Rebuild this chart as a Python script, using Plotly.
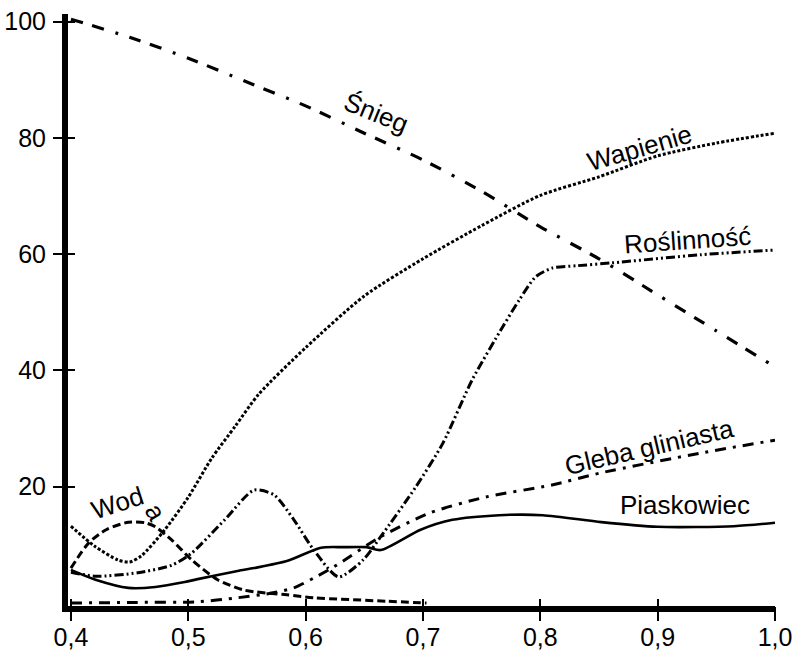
import plotly.graph_objects as go

# ---- data (wavelength in µm, reflectance in %) ----
snieg_x = [0.40, 0.45, 0.50, 0.55, 0.60, 0.65, 0.70, 0.75, 0.80, 0.85, 0.90, 0.95, 1.00]
snieg_y = [100.4, 97.3, 93.7, 89.6, 85.5, 80.8, 76.2, 70.8, 64.7, 59.2, 53.0, 46.8, 40.6]

wap_x = [0.40, 0.42, 0.44, 0.45, 0.46, 0.48, 0.50, 0.52, 0.54, 0.56, 0.60, 0.65, 0.70, 0.75, 0.80, 0.85, 0.90, 0.95, 1.00]
wap_y = [13.2, 9.8, 7.4, 7.05, 8.1, 12.6, 18.2, 24.9, 30.4, 35.9, 43.9, 52.8, 59.2, 64.9, 70.1, 73.3, 76.9, 79.1, 80.8]

rosl_x = [0.40, 0.421, 0.457, 0.486, 0.503, 0.531, 0.556, 0.573, 0.59, 0.607, 0.628, 0.649, 0.664, 0.694,
          0.717, 0.742, 0.768, 0.782, 0.796, 0.81, 0.831, 0.861, 0.937, 1.00]
rosl_y = [5.3, 4.6, 5.2, 6.5, 8.6, 14.3, 19.4, 18.6, 14.3, 9.1, 4.5, 7.4, 11.4, 20.0,
          27.5, 38.4, 47.5, 52.1, 56.1, 57.6, 58.0, 58.5, 59.9, 60.7]

piask_x = [0.40, 0.421, 0.449, 0.472, 0.497, 0.508, 0.542, 0.556, 0.584, 0.613, 0.632, 0.652, 0.664, 0.698,
           0.725, 0.765, 0.802, 0.852, 0.90, 0.965, 1.00]
piask_y = [5.7, 4.0, 2.6, 2.75, 3.6, 4.1, 5.5, 6.0, 7.2, 9.5, 9.6, 9.6, 9.1, 12.6,
           14.3, 15.1, 15.1, 13.9, 13.1, 13.2, 13.8]

gleba_x = [0.40, 0.455, 0.508, 0.542, 0.571, 0.59, 0.607, 0.624, 0.664, 0.706, 0.753, 0.81, 0.852, 0.937, 1.00]
gleba_y = [0.0, 0.1, 0.2, 0.9, 1.7, 2.6, 4.3, 6.2, 11.4, 15.5, 18.2, 20.3, 22.4, 25.8, 28.0]

woda_x = [0.40, 0.415, 0.43, 0.449, 0.463, 0.472, 0.486, 0.503, 0.525, 0.548, 0.584, 0.607, 0.669, 0.703]
woda_y = [6.0, 10.3, 12.6, 13.9, 13.8, 13.1, 10.8, 7.4, 4.0, 2.2, 1.4, 0.9, 0.3, 0.0]

x_ticks = [0.4, 0.5, 0.6, 0.7, 0.8, 0.9, 1.0]
y_ticks = [20, 40, 60, 80, 100]

# ---- styling ----
FONT = "Liberation Sans, Arial, sans-serif"
series = [
    (snieg_x, snieg_y, "Śnieg", "12px,10px,12px,12px,3px,12px", 3.2),
    (wap_x, wap_y, "Wapienie", "3px,2px", 3),
    (rosl_x, rosl_y, "Roślinność", "9px,3px,2px,3px,2px,3px", 3),
    (piask_x, piask_y, "Piaskowiec", "solid", 2.6),
    (gleba_x, gleba_y, "Gleba gliniasta", "11px,7px,3px,7px", 3),
    (woda_x, woda_y, "Woda", "8px,4px", 3),
]

fig = go.Figure()
for xs, ys, name, dash, w in series:
    fig.add_trace(go.Scatter(x=xs, y=ys, mode="lines", name=name,
                             line=dict(color="black", width=w, dash=dash,
                                       shape="spline", smoothing=0.7),
                             hoverinfo="skip"))

labels = [
    ("Śnieg", 0.6604, 84.3, 22),
    ("Wapienie", 0.8844, 78.2, -16),
    ("Roślinność", 0.9258, 62.4, -4),
    ("Gleba gliniasta", 0.8928, 26.8, -13),
    ("Piaskowiec", 0.9232, 16.9, 0),
    ("Wod", 0.4397, 17.2, -18),
    ("a", 0.4719, 15.6, 60),
]
for txt, lx, ly, ang in labels:
    fig.add_annotation(x=lx, y=ly, text=txt, showarrow=False, textangle=ang,
                       font=dict(family=FONT, size=26, color="black"),
                       xanchor="center", yanchor="middle")

axis_common = dict(showgrid=False, zeroline=False, automargin=False)
tick_style = dict(tickwidth=1.5, tickcolor="black", showticklabels=False,
                  showline=False, **axis_common)
fig.update_layout(
    template="none",
    width=795, height=651,
    margin=dict(l=68, r=20, t=14, b=45, autoexpand=False),
    paper_bgcolor="white", plot_bgcolor="white",
    showlegend=False,
    separators=", ",
    font=dict(family=FONT, size=24, color="black"),
    xaxis=dict(range=[0.3975, 1.0], tickvals=x_ticks, tickformat=".1f",
               showline=True, linewidth=6, linecolor="black",
               ticks="", ticklabelstandoff=4,
               ticklabeloverflow="allow", tickfont=dict(size=25, family=FONT),
               **axis_common),
    yaxis=dict(range=[-0.52, 101.3], tickvals=y_ticks,
               showline=True, linewidth=6, linecolor="black",
               ticks="outside", ticklen=9, tickwidth=1.5, tickcolor="black",
               tickfont=dict(size=25, family=FONT), ticklabelstandoff=2,
               **axis_common),
    # crossing ticks on the x axis: one overlay for the outer part, one for the inner part
    xaxis2=dict(overlaying="x", matches="x", side="bottom", tickvals=x_ticks,
                ticks="outside", ticklen=14, **tick_style),
    xaxis3=dict(overlaying="x", matches="x", side="bottom", tickvals=x_ticks,
                ticks="inside", ticklen=7, **tick_style),
    yaxis2=dict(overlaying="y", matches="y", side="left", tickvals=y_ticks,
                ticks="inside", ticklen=7, **tick_style),
)
# invisible helper traces so the tick overlay axes are drawn
for xa, ya in [("x2", "y2"), ("x3", "y2")]:
    fig.add_trace(go.Scatter(x=[0.4], y=[0], xaxis=xa, yaxis=ya, mode="markers",
                             marker=dict(opacity=0), hoverinfo="skip", showlegend=False))

fig.write_html("out.html")
